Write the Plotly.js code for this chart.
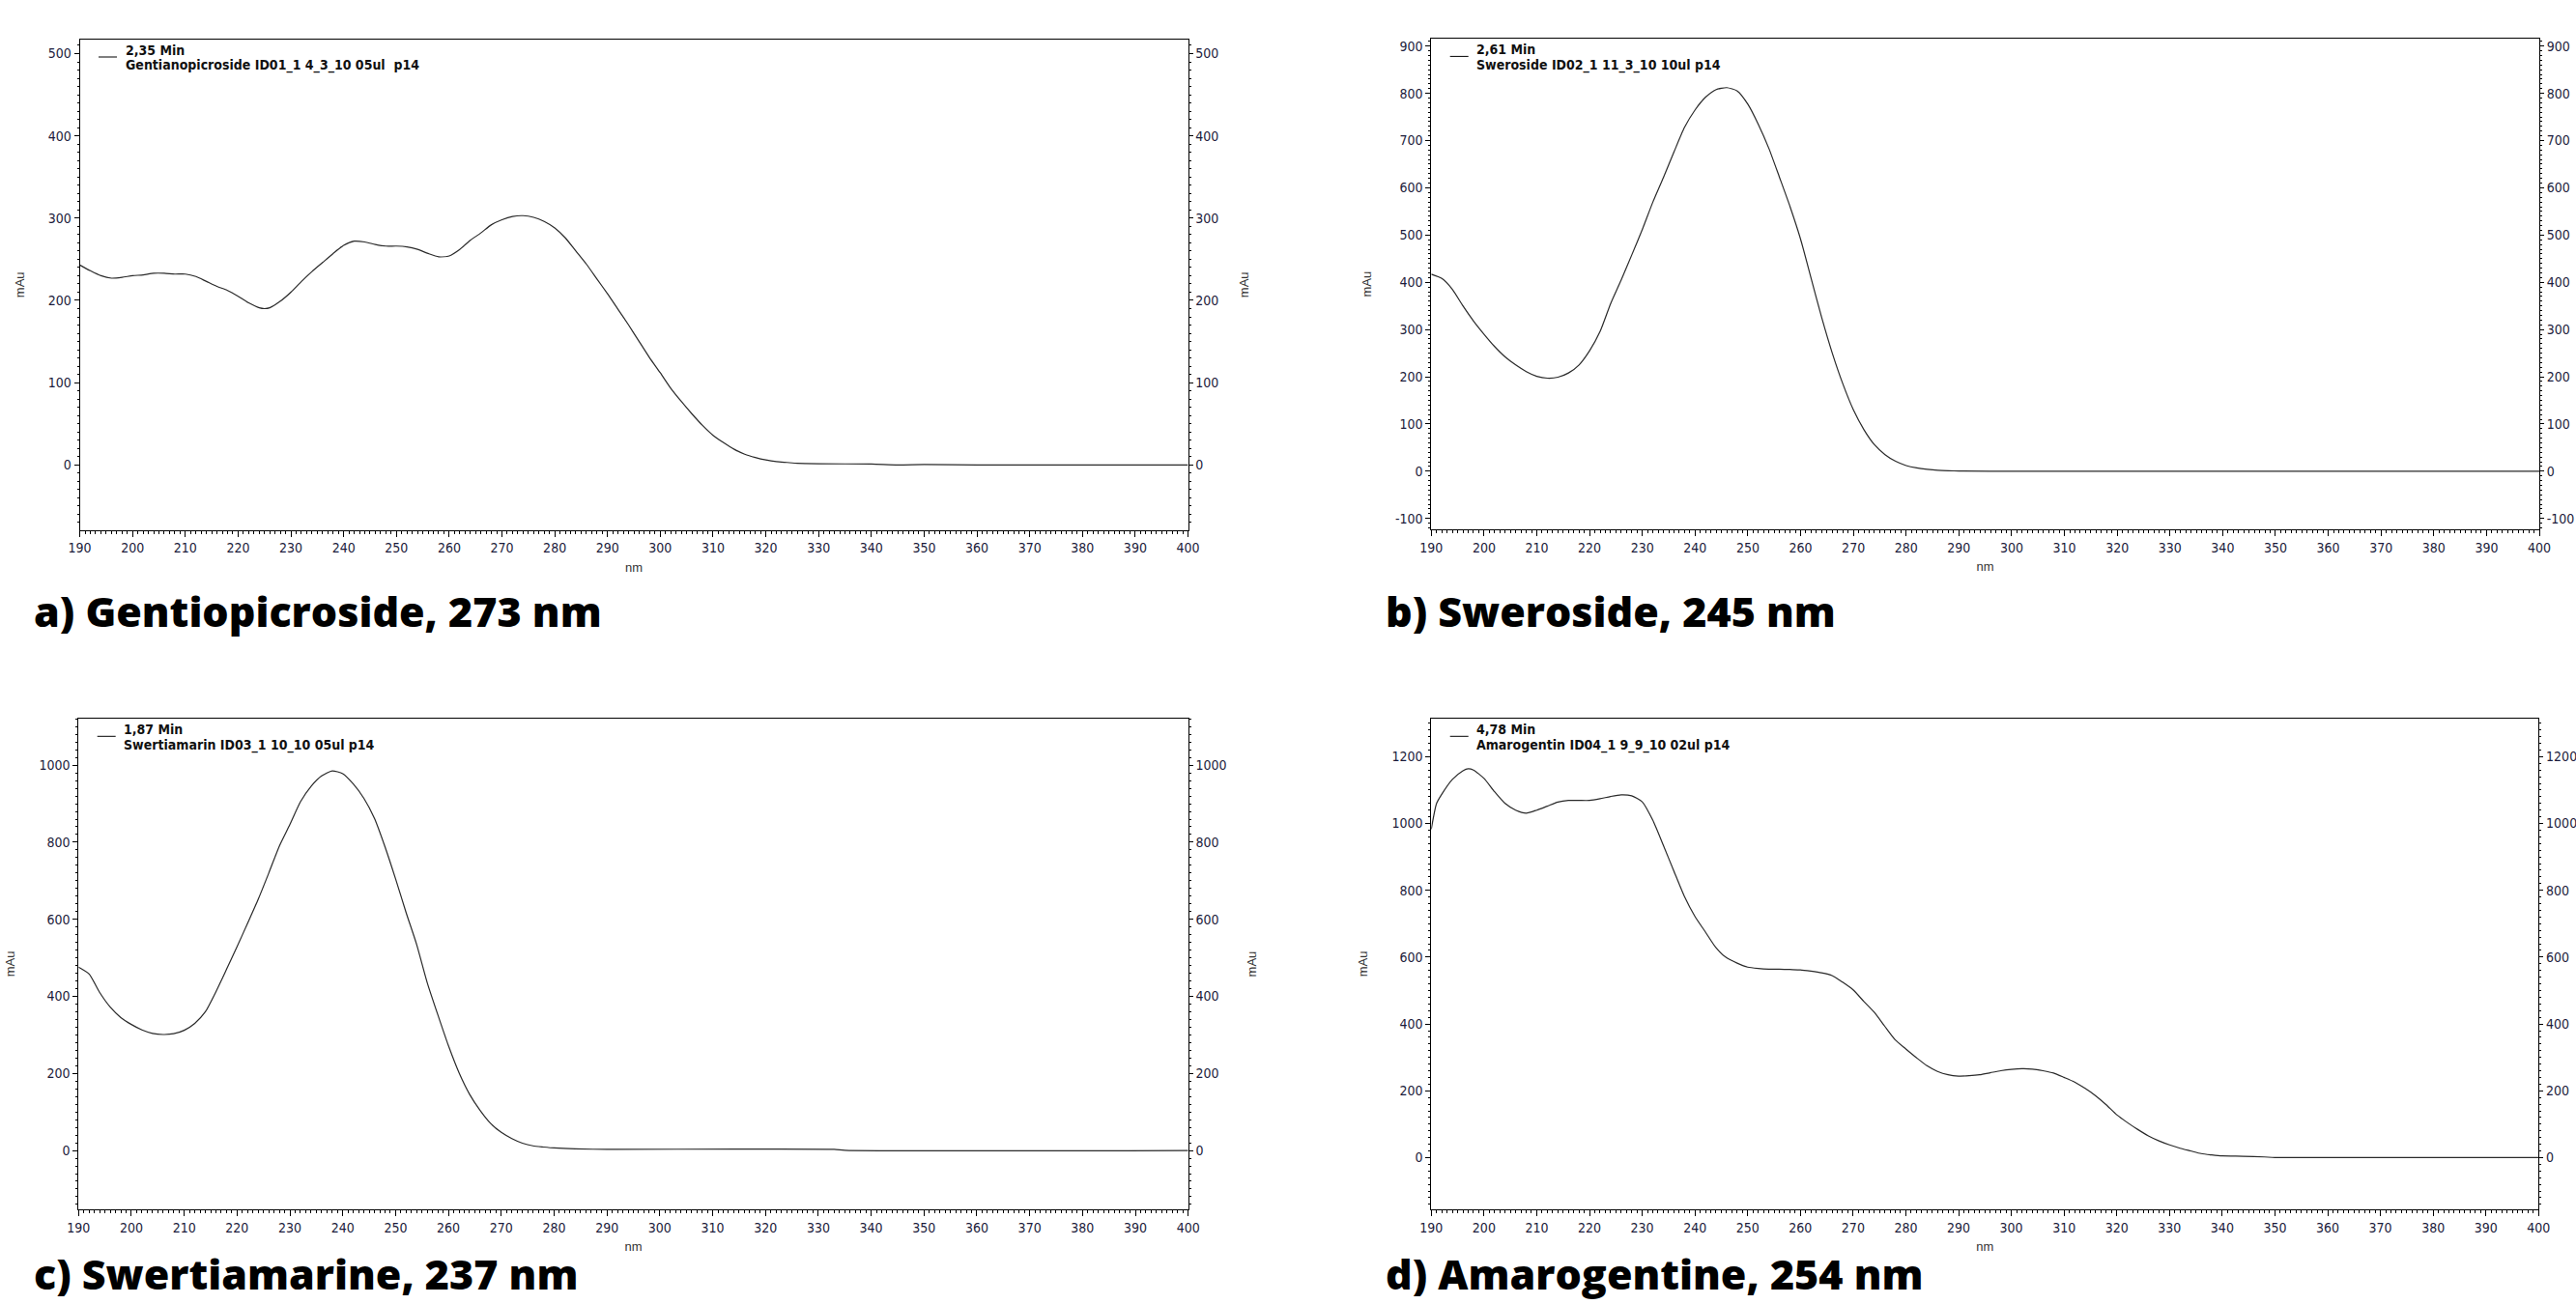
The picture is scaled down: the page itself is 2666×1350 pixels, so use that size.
<!DOCTYPE html>
<html>
<head>
<meta charset="utf-8">
<script src="https://cdn.plot.ly/plotly-3.0.1.min.js"></script>
<style>
html,body{margin:0;padding:0;background:#fff;}
#chart{width:2666px;height:1350px;}
</style>
</head>
<body>
<div id="chart"></div>
<script>
// ---------------- DATA ----------------
// a) Gentiopicroside
const gentioNm  = [190,192,194,196,198,200,202,204,206,208,210,212,214,216,218,220,222,224,225,226,228,230,232,234,236,238,240,242,244,246,248,250,252,254,256,258,260,262,264,266,268,270,272,274,276,278,280,282,284,286,288,290,292,294,296,298,300,302,304,306,308,310,312,314,316,318,320,322,324,326,330,340,345,350,360,400];
const gentioAbs = [243,236,230,227,228,230,231,233,233,232,232,229,223,217,212,205,197,191,190,191,199,210,223,235,246,257,267,272,271,268,266,266,265,262,257,253,254,262,273,282,292,298,302,303,301,296,288,276,260,244,226,208,189,170,150,130,112,93,77,62,48,36,27,19,13,9,6,4,3,2,1.5,1,0,0.5,0,0];
// b) Sweroside
const swerNm  = [190,192,194,196,198,200,202,204,206,208,210,212,214,216,218,220,222,224,226,228,230,232,234,236,238,240,242,244,246,248,250,252,254,256,258,260,262,264,266,268,270,272,274,276,278,280,282,284,286,288,290,300,400];
const swerAbs = [417,408,385,350,318,290,264,242,225,211,201,197,199,208,225,255,296,355,405,458,512,570,622,676,728,765,792,808,812,805,777,734,683,622,560,491,408,325,250,185,130,88,56,35,21,12,7,4,2,1,0.5,0,0];
// c) Swertiamarin
const swertNm  = [190,192,194,196,198,200,202,204,206,208,210,212,214,216,218,220,222,224,226,228,230,232,234,236,238,240,242,244,246,248,250,252,254,256,258,260,262,264,266,268,270,272,274,276,278,280,284,290,333,335,400];
const swertAbs = [476,458,410,372,345,327,313,304,301,303,312,330,360,412,470,529,590,652,720,790,846,905,945,972,985,978,951,914,862,788,705,617,534,435,352,272,202,146,104,70,47,31,19,12,9,6.5,4,3,3,0.5,0];
// d) Amarogentin
const amaroNm  = [190,191,192,194,196,197,198,200,202,204,206,208,210,212,214,216,218,220,222,224,226,228,230,232,234,236,238,240,242,244,246,248,250,252,254,256,258,260,262,264,266,268,270,272,274,276,278,280,282,284,286,288,290,292,294,296,298,300,302,304,306,308,310,312,314,316,318,320,322,324,326,328,330,332,334,336,338,340,344,348,350,400];
const amaroAbs = [983,1060,1088,1132,1158,1164,1160,1135,1095,1060,1040,1031,1040,1052,1064,1069,1069,1069,1074,1081,1086,1083,1065,1010,935,858,782,722,675,628,598,582,570,566,564,564,563,562,558,553,545,525,502,468,435,393,352,325,299,275,258,248,244,245,248,254,260,264,266,265,260,253,240,226,207,185,158,128,105,84,65,50,38,28,20,12,8,5,4,2,0,0];

// axis tick values (labels drawn with a plain hyphen as in the original)
const gentioTicks = [0,100,200,300,400,500];
const swerTicks   = [-100,0,100,200,300,400,500,600,700,800,900];
const swertTicks  = [0,200,400,600,800,1000];
const amaroTicks  = [0,200,400,600,800,1000,1200];

const runTimes    = ["2,35 Min","2,61 Min","1,87 Min","4,78 Min"];
const sampleNames = ["Gentianopicroside ID01_1 4_3_10 05ul\u00a0 p14",
                     "Sweroside ID02_1 11_3_10 10ul p14",
                     "Swertiamarin ID03_1 10_10 05ul p14",
                     "Amarogentin ID04_1 9_9_10 02ul p14"];
const panelTitles = ["a) Gentiopicroside, 273 nm","b) Sweroside, 245 nm",
                     "c) Swertiamarine, 237 nm","d) Amarogentine, 254 nm"];
const xTitle = "nm";
const yTitle = "mAu";

// ---------------- LAYOUT ----------------
const W = 2666, H = 1350;
const px = x => x / W;
const py = y => 1 - y / H;

const series = [[gentioNm,gentioAbs],[swerNm,swerAbs],[swertNm,swertAbs],[amaroNm,amaroAbs]];
const yTicks = [gentioTicks, swerTicks, swertTicks, amaroTicks];
const panels = [
  {l:82.6,  r:1229.5, t:41,    b:548.6,  yr:[-79,517],   mdy:10},
  {l:1481.3,r:2628,   t:40.4,  b:548,    yr:[-123,915],  mdy:10},
  {l:81.3,  r:1229.7, t:744.3, b:1251.7, yr:[-152,1120], mdy:20},
  {l:1481.3,r:2627.3, t:744.3, b:1251.7, yr:[-154,1313], mdy:20}
];
const titleX = [33, 1432, 33, 1432];

const tickFont = {family:"Liberation Sans Narrow, Arial Narrow, DejaVu Sans Condensed, sans-serif", size:14, color:"#1c1c3c"};
const axTitleFont = {family:"Liberation Sans, Arial, sans-serif", size:13, color:"#333"};
const captionFont = {family:"Open Sans, Noto Sans, sans-serif", size:43, color:"#000", weight:800};

const traces = [];
const layout = {
  width: W, height: H,
  margin: {l:0, r:0, t:0, b:0},
  paper_bgcolor: "#fff", plot_bgcolor: "#fff",
  showlegend: false,
  annotations: [], shapes: []
};

panels.forEach((p, i) => {
  const n = i + 1;
  const xa = n === 1 ? "x" : "x" + n;
  const ya = n === 1 ? "y" : "y" + n;
  const xk = n === 1 ? "xaxis" : "xaxis" + n;
  const yk = n === 1 ? "yaxis" : "yaxis" + n;
  const ra = "y" + (n + 4);
  const rk = "yaxis" + (n + 4);
  const dom = [px(p.l), px(p.r)];
  const ydom = [py(p.b), py(p.t)];

  traces.push({
    x: series[i][0], y: series[i][1],
    type: "scatter", mode: "lines",
    line: {color: "#2a2a2a", width: 1.2, shape: "spline", smoothing: 0.6},
    xaxis: xa, yaxis: ya, hoverinfo: "skip"
  });
  // empty trace so that the right-hand (mirrored) axis is drawn
  traces.push({x: [], y: [], type: "scatter", mode: "lines", xaxis: xa, yaxis: ra, hoverinfo: "skip"});

  layout[xk] = {
    domain: dom, anchor: ya, range: [190, 400], tick0: 190, dtick: 10,
    showgrid: false, zeroline: false,
    showline: true, linecolor: "#000", linewidth: 1, mirror: true,
    ticks: "outside", ticklen: 6, tickwidth: 1, tickcolor: "#000",
    minor: {dtick: 1, ticks: "outside", ticklen: 3, tickcolor: "#000", showgrid: false},
    tickfont: tickFont,
    title: {text: xTitle, font: axTitleFont, standoff: 8},
    fixedrange: true
  };
  const yCommon = {
    range: p.yr, tickmode: "array", tickvals: yTicks[i], ticktext: yTicks[i].map(String),
    showgrid: false, zeroline: false,
    showline: true, linecolor: "#000", linewidth: 1,
    ticks: "outside", ticklen: 5, tickwidth: 1, tickcolor: "#000",
    minor: {tickmode: "linear", tick0: 0, dtick: p.mdy, ticks: "outside", ticklen: 2, tickcolor: "#000", showgrid: false},
    tickfont: tickFont,
    fixedrange: true
  };
  layout[yk] = Object.assign({}, yCommon, {domain: ydom, anchor: xa, side: "left",
    title: {text: yTitle, font: axTitleFont, standoff: 21}});
  const right = Object.assign({}, yCommon, {overlaying: ya, anchor: xa, side: "right", ticklen: 4});
  // right-hand axis title lies beyond the page edge for the right column (not visible in original)
  if (i % 2 === 0) right.title = {text: yTitle, font: axTitleFont, standoff: 22};
  layout[rk] = right;

  // legend-like label block
  layout.shapes.push({type: "line", xref: "paper", yref: "paper",
    x0: px(p.l + 19.4), x1: px(p.l + 38.4), y0: py(p.t + 18), y1: py(p.t + 18),
    line: {color: "#000", width: 1}});
  layout.annotations.push({xref: "paper", yref: "paper", x: px(p.l + 45), y: py(p.t + 10.7),
    xanchor: "left", yanchor: "middle", showarrow: false, text: runTimes[i],
    font: {family: tickFont.family, size: 14, color: "#111", weight: 700}});
  layout.annotations.push({xref: "paper", yref: "paper", x: px(p.l + 45), y: py(p.t + 26.7),
    xanchor: "left", yanchor: "middle", showarrow: false, text: sampleNames[i],
    font: {family: tickFont.family, size: 14, color: "#111", weight: 700}});
  // panel caption
  const top = i < 2;
  layout.annotations.push({xref: "paper", yref: "paper", x: px(titleX[i]),
    y: top ? py(632) : 0, yanchor: top ? "middle" : "bottom",
    xanchor: "left", showarrow: false, text: panelTitles[i], font: captionFont});
});

Plotly.newPlot("chart", traces, layout, {staticPlot: true, displayModeBar: false});
</script>
</body>
</html>
